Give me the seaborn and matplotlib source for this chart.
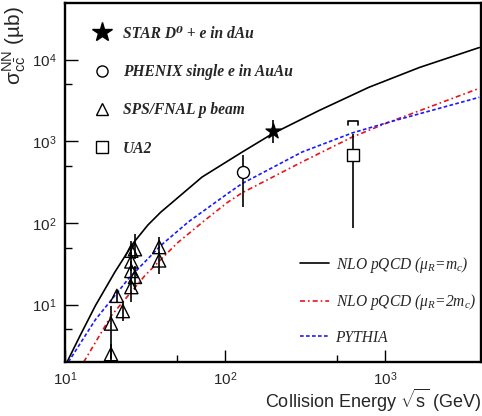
import numpy as np
import pandas as pd
import matplotlib
matplotlib.use("Agg")
import matplotlib.pyplot as plt
import seaborn as sns
from matplotlib.ticker import LogLocator, NullFormatter, FixedFormatter, FixedLocator
from matplotlib.lines import Line2D

# ---------------- data ----------------
nlo_mc_x = [10.3, 12.5, 15.5, 20.5, 26.9, 33, 39.8, 44.7, 72, 128, 198, 388, 795, 1650, 3900]
nlo_mc_y = [2.0, 4.3, 9.8, 25.2, 58, 95, 137, 166, 367, 740, 1240, 2390, 4600, 8050, 14100]

nlo_2mc_x = [13.1, 19.5, 31.7, 50.3, 75.6, 104, 128, 303, 625, 1060, 3900]
nlo_2mc_y = [2.0, 7.4, 23, 57, 110, 180, 235, 560, 1130, 1720, 4470]

pythia_x = [10.5, 15.5, 25, 40, 59.6, 104, 128, 303, 625, 1060, 3900]
pythia_y = [2.0, 6.6, 21, 54, 105, 230, 305, 740, 1270, 1720, 3470]

star_x, star_y, star_lo, star_hi = [200], [1350], [950], [1820]
phenix_x, phenix_y, phenix_lo, phenix_hi = [130], [420], [157], [675]
ua2_x, ua2_y, ua2_lo, ua2_hi = [630], [690], [87], [1250]
ua2_sys_hi = [1800]

sps_x = [19.4, 19.4, 21.1, 23.0, 26.0, 26.0, 26.0, 26.0, 27.4, 27.4, 38.8, 38.8]
sps_y = [5.9, 2.5, 12.9, 8.4, 46, 34, 26, 16.5, 48, 22, 51, 35]
sps_lo = [2.2, 2.0, 11, 6.3, 36, 26, 19, 11, 36, 15, 42, 24]
sps_hi = [9.8, 3.3, 15, 10.5, 60, 45, 34, 22, 74, 30, 68, 44]

x_tick_vals = [10, 100, 1000]
x_tick_labels = [r"$10^{1}$", r"$10^{2}$", r"$10^{3}$"]
y_tick_vals = [10, 100, 1000, 10000]
y_tick_labels = [r"$10^{1}$", r"$10^{2}$", r"$10^{3}$", r"$10^{4}$"]

labels_data = ["STAR D⁰ + e in dAu", "PHENIX single e in AuAu",
               "SPS/FNAL p beam", "UA2"]
labels_curves = [r"NLO pQCD (μ$_R$=m$_c$)", r"NLO pQCD (μ$_R$=2m$_c$)", "PYTHIA"]

# ---------------- style ----------------
sns.set_style("ticks")
plt.rcParams["font.family"] = ["Liberation Sans", "DejaVu Sans"]
plt.rcParams["mathtext.fontset"] = "custom"
plt.rcParams["mathtext.rm"] = "Liberation Sans"
plt.rcParams["mathtext.it"] = "Liberation Serif:italic"
plt.rcParams["mathtext.bf"] = "Liberation Sans:bold"

fig = plt.figure(figsize=(4.82, 4.16), dpi=100)
ax = fig.add_axes([65 / 482, 1 - 362 / 416, (481 - 65) / 482, (362 - 3) / 416])

# curves
curves = [
    (nlo_mc_x, nlo_mc_y, "black", "-"),
    (nlo_2mc_x, nlo_2mc_y, "#e8141c", (0, (3, 1.8, 1, 1.8))),
    (pythia_x, pythia_y, "#1a1aff", (0, (2.2, 1.4))),
]
for cx, cy, col, ls in curves:
    df = pd.DataFrame({"x": cx, "y": cy})
    sns.lineplot(data=df, x="x", y="y", ax=ax, color=col, linestyle=ls,
                 linewidth=1.2, sort=True, legend=False)

ax.set_xscale("log")
ax.set_yscale("log")
ax.set_xlim(10, 4000)
ax.set_ylim(2.0, 49500)

# error bars
def vbars(xs, ys, lo, hi, zo=3):
    xs, ys, lo, hi = map(np.asarray, (xs, ys, lo, hi))
    ax.errorbar(xs, ys, yerr=[ys - lo, hi - ys], fmt="none", ecolor="black",
                elinewidth=1.2, capsize=0, zorder=zo)

vbars(star_x, star_y, star_lo, star_hi)
vbars(phenix_x, phenix_y, phenix_lo, phenix_hi)
vbars(ua2_x, ua2_y, ua2_lo, ua2_hi)
vbars(sps_x, sps_y, sps_lo, sps_hi)

# UA2 systematic bracket
for bx, by in zip(ua2_x, ua2_sys_hi):
    ax.plot([bx * 0.93, bx * 0.93, bx * 1.075, bx * 1.075],
            [by * 0.88, by, by, by * 0.88], color="black", lw=1.2, zorder=3)

# markers
sns.scatterplot(x=star_x, y=star_y, ax=ax, marker="*", s=130, color="black",
                edgecolor="black", zorder=5, legend=False)
sns.scatterplot(x=phenix_x, y=phenix_y, ax=ax, marker="o", s=75, facecolor="white",
                edgecolor="black", linewidth=1.0, zorder=5, legend=False)
sns.scatterplot(x=ua2_x, y=ua2_y, ax=ax, marker="s", s=70, facecolor="white",
                edgecolor="black", linewidth=1.0, zorder=5, legend=False)
sns.scatterplot(x=sps_x, y=sps_y, ax=ax, marker="^", s=90, facecolor="none",
                edgecolor="black", linewidth=1.0, zorder=5, legend=False)

# ticks
ax.xaxis.set_major_locator(FixedLocator(x_tick_vals))
ax.xaxis.set_major_formatter(FixedFormatter(x_tick_labels))
ax.yaxis.set_major_locator(FixedLocator(y_tick_vals))
ax.yaxis.set_major_formatter(FixedFormatter(y_tick_labels))
ax.xaxis.set_minor_locator(LogLocator(base=10, subs=[5]))
ax.yaxis.set_minor_locator(LogLocator(base=10, subs=[5]))
ax.xaxis.set_minor_formatter(NullFormatter())
ax.yaxis.set_minor_formatter(NullFormatter())
ax.tick_params(which="both", direction="in", top=False, right=False,
               width=1.0, labelsize=11, color="black")
ax.tick_params(which="major", length=9, pad=6)
ax.tick_params(which="minor", length=5)
for s in ax.spines.values():
    s.set_linewidth(1.7)
    s.set_color("black")

ax.set_xlabel(r"Collision Energy $\sqrt{\mathrm{s}}$ (GeV)", fontsize=13, loc="right",
              labelpad=-1)
ax.set_ylabel(r"$\mathrm{\sigma}^{\mathrm{NN}}_{\mathrm{c\bar{c}}}$ (µb)", fontsize=15,
              loc="top")
ax.yaxis.set_label_coords(-0.09, 0.99)

# legends
h_data = [
    Line2D([], [], marker="*", color="black", markersize=15, linestyle="none"),
    Line2D([], [], marker="o", markerfacecolor="white", markeredgecolor="black",
           markersize=8, linestyle="none"),
    Line2D([], [], marker="^", markerfacecolor="white", markeredgecolor="black",
           markersize=8, linestyle="none"),
    Line2D([], [], marker="s", markerfacecolor="white", markeredgecolor="black",
           markersize=8, linestyle="none"),
]
leg1 = ax.legend(h_data, labels_data, loc="upper left",
                 bbox_to_anchor=(86 / 482, 1 - 18 / 416), bbox_transform=fig.transFigure,
                 frameon=False, borderpad=0, handlelength=1.0, handletextpad=0.85,
                 labelspacing=1.43,
                 prop={"family": ["Liberation Serif", "DejaVu Serif"], "style": "italic",
                       "weight": "bold", "size": 11.2})
ax.add_artist(leg1)

h_curves = [
    Line2D([], [], color=c[2], linestyle=c[3], linewidth=1.2) for c in curves
]
leg2 = ax.legend(h_curves, labels_curves, loc="upper left",
                 bbox_to_anchor=(292 / 482, 1 - 247 / 416), bbox_transform=fig.transFigure,
                 frameon=False, borderpad=0, handlelength=1.85, handletextpad=0.45,
                 labelspacing=1.12,
                 prop={"family": ["Liberation Serif", "DejaVu Serif"], "style": "italic",
                       "size": 11.2})

fig.savefig("out.png", dpi=100)
